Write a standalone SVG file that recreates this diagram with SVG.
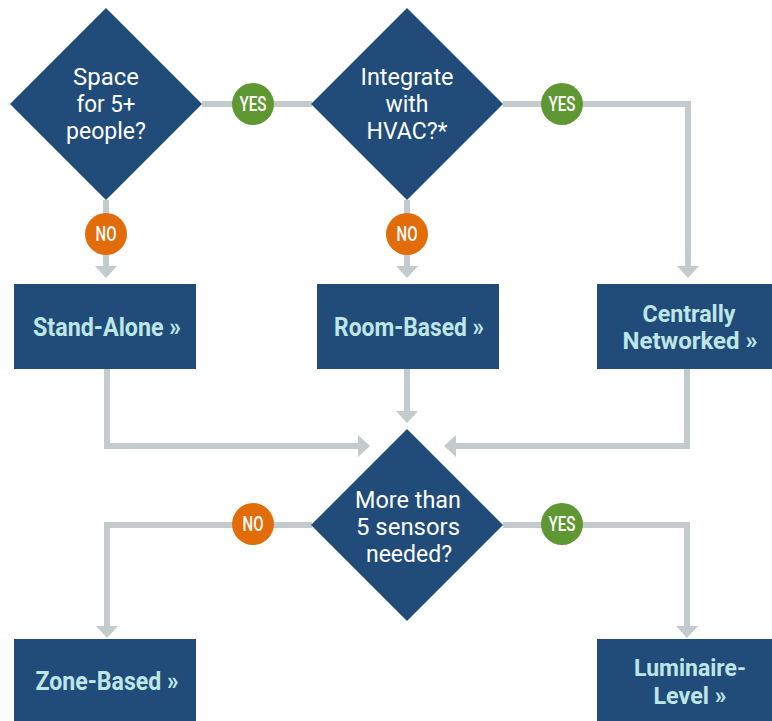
<svg xmlns="http://www.w3.org/2000/svg" width="772" height="721" viewBox="0 0 772 721">
<style>
.shape{fill:#214c7a}
.q{fill:#ffffff;font-family:Roboto,"Liberation Sans",sans-serif;font-size:23px;text-anchor:middle}
.b{fill:#bfe6e6;font-family:Roboto,"Liberation Sans",sans-serif;font-size:25px;font-weight:700;text-anchor:middle}
.b2{fill:#bfe6e6;font-family:Roboto,"Liberation Sans",sans-serif;font-size:23px;font-weight:700;text-anchor:middle}
.lbl{fill:#ffffff;font-family:Roboto,"Liberation Sans",sans-serif;font-size:20px;font-weight:500;text-anchor:middle}
.yes{fill:#5f9733}
.no{fill:#e36c0a}
.c{fill:none;stroke:#c3cbcd;stroke-width:6;stroke-linejoin:miter}
</style>
<defs>
<marker id="ah" viewBox="0 0 12 22" refX="0" refY="11" markerWidth="12" markerHeight="22" markerUnits="userSpaceOnUse" orient="auto">
<path d="M0,0 L12,11 L0,22 Z" fill="#c3cbcd"/>
</marker>
</defs>
<rect width="772" height="721" fill="#ffffff"/>
<g id="connectors">
<path class="c" d="M202,104 H312"/>
<path class="c" d="M106,200 V266" marker-end="url(#ah)"/>
<path class="c" d="M407,200 V266" marker-end="url(#ah)"/>
<path class="c" d="M503,104 H688 V266" marker-end="url(#ah)"/>
<path class="c" d="M107,369 V446 H358" marker-end="url(#ah)"/>
<path class="c" d="M407,369 V411" marker-end="url(#ah)"/>
<path class="c" d="M687,369 V446 H456" marker-end="url(#ah)"/>
<path class="c" d="M312,525 H107 V626" marker-end="url(#ah)"/>
<path class="c" d="M503,525 H687 V626" marker-end="url(#ah)"/>
<g id="label-yes-1"><circle class="yes" cx="253" cy="104" r="21"/><text class="lbl" x="253" y="111" textLength="27" lengthAdjust="spacingAndGlyphs">YES</text></g>
<g id="label-yes-2"><circle class="yes" cx="562" cy="104" r="21"/><text class="lbl" x="562" y="111" textLength="27" lengthAdjust="spacingAndGlyphs">YES</text></g>
<g id="label-no-1"><circle class="no" cx="106" cy="234" r="21"/><text class="lbl" x="106" y="241" textLength="21" lengthAdjust="spacingAndGlyphs">NO</text></g>
<g id="label-no-2"><circle class="no" cx="407" cy="234" r="21"/><text class="lbl" x="407" y="241" textLength="21" lengthAdjust="spacingAndGlyphs">NO</text></g>
<g id="label-no-3"><circle class="no" cx="253" cy="524" r="21"/><text class="lbl" x="253" y="531" textLength="21" lengthAdjust="spacingAndGlyphs">NO</text></g>
<g id="label-yes-3"><circle class="yes" cx="562" cy="524" r="21"/><text class="lbl" x="562" y="531" textLength="27" lengthAdjust="spacingAndGlyphs">YES</text></g>
</g>
<g id="q-space">
<polygon class="shape" points="106,8 202,104 106,200 10,104"/>
<text class="q" x="106" y="85" textLength="66" lengthAdjust="spacingAndGlyphs">Space</text>
<text class="q" x="106" y="112" textLength="59" lengthAdjust="spacingAndGlyphs">for 5+</text>
<text class="q" x="106" y="139" textLength="80" lengthAdjust="spacingAndGlyphs">people?</text>
</g>
<g id="q-hvac">
<polygon class="shape" points="407,8 503,104 407,200 311,104"/>
<text class="q" x="407" y="85" textLength="93" lengthAdjust="spacingAndGlyphs">Integrate</text>
<text class="q" x="407" y="112" textLength="43" lengthAdjust="spacingAndGlyphs">with</text>
<text class="q" x="407" y="139" textLength="81" lengthAdjust="spacingAndGlyphs">HVAC?*</text>
</g>
<g id="q-sensors">
<polygon class="shape" points="407,429 503,525 407,621 311,525"/>
<text class="q" x="408" y="508" textLength="106" lengthAdjust="spacingAndGlyphs">More than</text>
<text class="q" x="408" y="535" textLength="104" lengthAdjust="spacingAndGlyphs">5 sensors</text>
<text class="q" x="409" y="562" textLength="86" lengthAdjust="spacingAndGlyphs">needed?</text>
</g>
<g id="stand-alone">
<rect class="shape" x="14" y="284" width="182" height="85"/>
<text class="b" x="107" y="336" textLength="148" lengthAdjust="spacingAndGlyphs">Stand-Alone »</text>
</g>
<g id="room-based">
<rect class="shape" x="317" y="284" width="182" height="85"/>
<text class="b" x="409" y="336" textLength="150" lengthAdjust="spacingAndGlyphs">Room-Based »</text>
</g>
<g id="centrally-networked">
<rect class="shape" x="597" y="284" width="182" height="85"/>
<text class="b2" x="689" y="322" textLength="93" lengthAdjust="spacingAndGlyphs">Centrally</text>
<text class="b2" x="690" y="349" textLength="135" lengthAdjust="spacingAndGlyphs">Networked »</text>
</g>
<g id="zone-based">
<rect class="shape" x="14" y="639" width="182" height="85"/>
<text class="b" x="107" y="690" textLength="143" lengthAdjust="spacingAndGlyphs">Zone-Based »</text>
</g>
<g id="luminaire-level">
<rect class="shape" x="597" y="639" width="182" height="85"/>
<text class="b2" x="690" y="676" textLength="112" lengthAdjust="spacingAndGlyphs">Luminaire-</text>
<text class="b2" x="690" y="704" textLength="73" lengthAdjust="spacingAndGlyphs">Level »</text>
</g>
</svg>
